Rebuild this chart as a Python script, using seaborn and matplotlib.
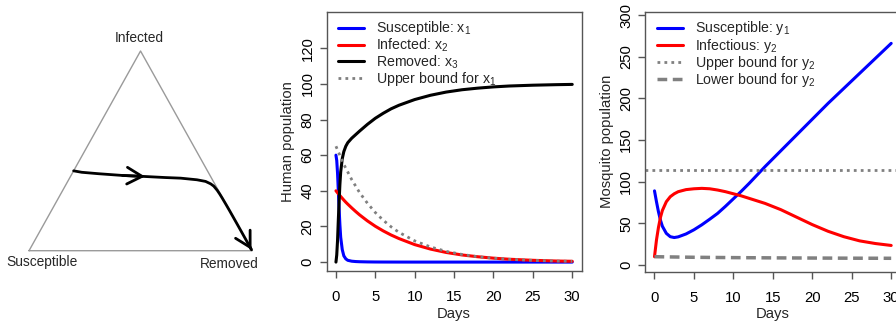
import numpy as np
import matplotlib.pyplot as plt
import seaborn as sns

# populacao humana (painel do meio e triangulo)
dias_h = [0, 0.1, 0.2, 0.3, 0.4, 0.5, 0.6, 0.8, 1.0, 1.25, 1.5, 2, 2.5, 3, 4, 5,
          6, 7, 8, 10, 12, 14, 16, 18, 20, 22, 25, 28, 30]
x1_sus = [60, 57, 50, 40, 30, 21, 14, 7, 3.5, 1.8, 1.0, 0.5, 0.3, 0.2, 0.1, 0.05,
          0.03, 0.02, 0.01, 0, 0, 0, 0, 0, 0, 0, 0, 0, 0]
x2_inf = [40, 39.45, 38.9, 38.4, 37.85, 37.3, 36.8, 35.8, 34.8, 33.6, 32.5, 30.4, 28.4, 26.5, 23.1, 20.1,
          17.5, 15.2, 13.2, 9.8, 7.3, 5.4, 4.0, 3.0, 2.2, 1.6, 1.0, 0.6, 0.45]
x3_rem = [0, 4, 12, 23.5, 34, 43.5, 50.5, 58, 62, 65, 67, 69.5, 71.5, 73.5, 77.3, 80.7,
          83.5, 86, 88, 91.2, 93.6, 95.4, 96.7, 97.6, 98.3, 98.8, 99.25, 99.55, 99.7]
dias_lim = [0, 1, 2, 3, 4, 5, 6, 7, 8, 10, 12, 14, 16, 18, 20, 22, 25, 28, 30]
x1_lim = [65, 54.8, 46.3, 39, 33, 27.8, 23.5, 19.8, 16.7, 11.9, 8.5, 6.0, 4.3, 3.0, 2.2,
          1.55, 0.95, 0.57, 0.42]

# populacao de mosquitos
dias_m = [0, 0.25, 0.5, 0.75, 1, 1.5, 2, 2.5, 3, 4, 5, 6, 7, 8, 9, 10, 11, 12, 13, 14,
          16, 18, 20, 22, 24, 26, 28, 30]
y1_sus = [89, 76, 64, 54, 46.5, 38, 34, 33, 33.8, 37.3, 42.3, 48.3, 55, 62, 70.5, 79.5,
          88.5, 98, 108, 118, 137, 156, 175, 194, 212, 230, 248, 266]
y2_inf = [10, 30, 45, 57, 65.5, 76, 82, 85.5, 88, 90.5, 91.5, 92, 91.5, 90, 88, 85.5,
          83, 80, 77, 74, 66.5, 57.5, 48.5, 40.5, 34, 29, 25.8, 23.5]
y2_sup = 114
dias_inf = [0, 5, 10, 15, 20, 25, 30]
y2_inf_lim = [10, 9.3, 8.9, 8.6, 8.4, 8.2, 8.1]

# cantos do triangulo (S, I, R)
cantos = ['Susceptible', 'Infected', 'Removed']

azul = '#0000FF'
vermelho = '#FF0000'
cinza = '#808080'
cor_eixo = '#555555'
fs = 10.7
fs_leg = 10.2

sns.set_theme(style='white')
plt.rcParams['font.family'] = ['Liberation Sans', 'DejaVu Sans']
plt.rcParams['mathtext.default'] = 'regular'


def ternario(s, i, r):
    s, i, r = np.asarray(s, float), np.asarray(i, float), np.asarray(r, float)
    tot = s + i + r
    return (r + 0.5 * i) / tot, i / tot


fig = plt.figure(figsize=(8.96, 3.22), dpi=100)

# ---- triangulo
ax0 = fig.add_axes([0.0324, 0.2214, 0.2489, 0.6202])
vx, vy = ternario([1, 0, 0, 1], [0, 1, 0, 0], [0, 0, 1, 0])
ax0.plot(vx, vy, color='#9a9a9a', lw=1.0, clip_on=False)
tx, ty = ternario(x1_sus, x2_inf, x3_rem)
sns.lineplot(x=tx, y=ty, ax=ax0, color='black', lw=2.0, sort=False)
seta = dict(arrowstyle='->,head_length=0.9,head_width=0.5', lw=2.0, color='black',
            shrinkA=0, shrinkB=0)
ax0.annotate('', xy=(tx[4], ty[4]), xytext=(tx[3], ty[3]), arrowprops=seta,
             annotation_clip=False)
ax0.annotate('', xy=(tx[-1], ty[-1]), xytext=(tx[-3], ty[-3]), arrowprops=seta,
             annotation_clip=False)
for ln in ax0.lines:
    ln.set_clip_on(False)
ax0.set_xlim(0, 1)
ax0.set_ylim(0, 1)
ax0.axis('off')
ax0.text(0.493, 1.065, cantos[1], ha='center', va='center', fontsize=9.9)
ax0.text(0.058, -0.057, cantos[0], ha='center', va='center', fontsize=9.9)
ax0.text(0.897, -0.067, cantos[2], ha='center', va='center', fontsize=9.9)


def estilo(ax, yticks, ylim, ylabel):
    ax.set_xlim(-1.2, 31.2)
    ax.set_ylim(*ylim)
    ax.set_xticks(range(0, 31, 5))
    ax.set_yticks(yticks)
    ax.set_xlabel('Days', fontsize=fs, labelpad=1.5)
    ax.set_ylabel(ylabel, fontsize=fs, labelpad=4)
    for sp in ax.spines.values():
        sp.set_color(cor_eixo)
        sp.set_linewidth(1.0)
        sp.set_visible(True)
    ax.tick_params(axis='both', bottom=True, left=True, length=5, width=1,
                   color=cor_eixo, labelsize=fs, labelcolor='black')
    ax.tick_params(axis='x', pad=9)
    ax.tick_params(axis='y', pad=3.5, labelrotation=90)
    for lab in ax.get_yticklabels():
        lab.set_va('center')


# ---- humanos
ax1 = fig.add_axes([0.3644, 0.1584, 0.2848, 0.8053])
sns.lineplot(x=dias_h, y=x1_sus, ax=ax1, color=azul, lw=2.2, label='Susceptible: x$_1$')
sns.lineplot(x=dias_h, y=x2_inf, ax=ax1, color=vermelho, lw=2.2, label='Infected: x$_2$')
sns.lineplot(x=dias_h, y=x3_rem, ax=ax1, color='black', lw=2.2, label='Removed: x$_3$')
sns.lineplot(x=dias_lim, y=x1_lim, ax=ax1, color=cinza, lw=2.0, linestyle=(0, (1, 1.5)),
             label='Upper bound for x$_1$')
estilo(ax1, range(0, 121, 20), (-5, 140.5), 'Human population')
ax1.legend(loc='upper left', bbox_to_anchor=(0.045, 0.970), borderaxespad=0, borderpad=0,
           frameon=False, fontsize=fs_leg, handlelength=1.85, handletextpad=0.85,
           labelspacing=-0.06)

# ---- mosquitos
ax2 = fig.add_axes([0.7199, 0.1562, 0.2853, 0.8075])
sns.lineplot(x=dias_m, y=y1_sus, ax=ax2, color=azul, lw=2.2, label='Susceptible: y$_1$')
sns.lineplot(x=dias_m, y=y2_inf, ax=ax2, color=vermelho, lw=2.2, label='Infectious: y$_2$')
ax2.axhline(y2_sup, color=cinza, lw=2.0, linestyle=(0, (1, 1.5)), label='Upper bound for y$_2$')
sns.lineplot(x=dias_inf, y=y2_inf_lim, ax=ax2, color=cinza, lw=2.5, linestyle=(0, (2.8, 1.6)),
             label='Lower bound for y$_2$')
estilo(ax2, range(0, 301, 50), (-8, 304), 'Mosquito population')
ax2.legend(loc='upper left', bbox_to_anchor=(0.047, 0.970), borderaxespad=0, borderpad=0,
           frameon=False, fontsize=fs_leg, handlelength=1.85, handletextpad=0.85,
           labelspacing=-0.06)

fig.savefig('out.png', dpi=100)
